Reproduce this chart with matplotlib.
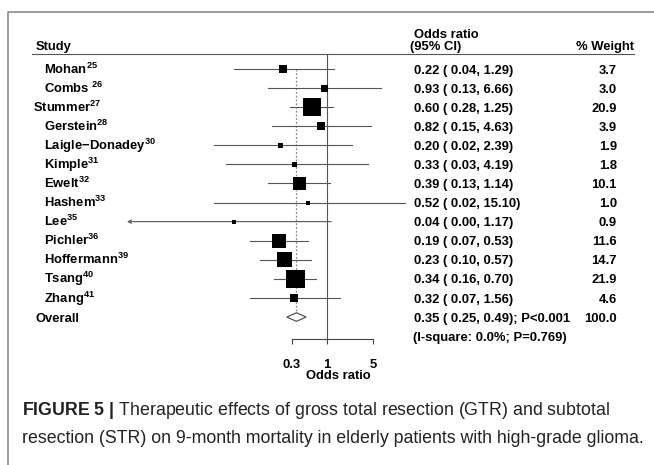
import numpy as np
import matplotlib
matplotlib.use('Agg')
import matplotlib.pyplot as plt
import matplotlib.transforms as mtransforms
from matplotlib.lines import Line2D
from matplotlib.patches import Polygon
from matplotlib.ticker import NullLocator

plt.rcParams['font.family'] = ['Liberation Sans', 'DejaVu Sans']
plt.rcParams['mathtext.fontset'] = 'custom'
plt.rcParams['mathtext.rm'] = 'Liberation Sans'
plt.rcParams['mathtext.bf'] = 'Liberation Sans:bold'
plt.rcParams['mathtext.it'] = 'Liberation Sans:italic'

# ---------------- data ----------------
studies = ["Mohan", "Combs ", "Stummer", "Gerstein", "Laigle\u2212Donadey", "Kimple",
           "Ewelt", "Hashem", "Lee", "Pichler", "Hoffermann", "Tsang", "Zhang"]
refs = ["25", "26", "27", "28", "30", "31", "32", "33", "35", "36", "39", "40", "41"]
odds = [0.22, 0.93, 0.60, 0.82, 0.20, 0.33, 0.39, 0.52, 0.04, 0.19, 0.23, 0.34, 0.32]
ci_low = [0.04, 0.13, 0.28, 0.15, 0.02, 0.03, 0.13, 0.02, 0.00, 0.07, 0.10, 0.16, 0.07]
ci_high = [1.29, 6.66, 1.25, 4.63, 2.39, 4.19, 1.14, 15.10, 1.17, 0.53, 0.57, 0.70, 1.56]
weights = [3.7, 3.0, 20.9, 3.9, 1.9, 1.8, 10.1, 1.0, 0.9, 11.6, 14.7, 21.9, 4.6]
overall_or, overall_low, overall_high = 0.35, 0.25, 0.49
overall_p = "P<0.001"
overall_w = 100.0
i2_text = "(I-square: 0.0%; P=0.769)"
xticks = [0.3, 1, 5]
xtick_labels = ["0.3", "1", "5"]

# ---------------- layout ----------------
W, H = 654, 465
fig = plt.figure(figsize=(W / 100, H / 100), dpi=100)

x_one, k = 326.7, 28.8          # pixel of OR=1, pixels per ln unit
ax_l, ax_r = 127, 410
ax_t, ax_b = 54.5, 339
y0, dy = 69, 19.08              # first row pixel, row spacing

ax = fig.add_axes([ax_l / W, 1 - ax_b / H, (ax_r - ax_l) / W, (ax_b - ax_t) / H])
ax.set_xscale('log')
xmin = np.exp((ax_l - x_one) / k)
xmax = np.exp((ax_r - x_one) / k)
ax.set_xlim(xmin, xmax)
ax.set_ylim((ax_b - y0) / dy, (ax_t - y0) / dy)
ax.patch.set_visible(False)
for s in ['top', 'left', 'right']:
    ax.spines[s].set_visible(False)
ax.spines['bottom'].set_bounds(xticks[0], xticks[-1])
ax.spines['bottom'].set_color('#444444')
ax.spines['bottom'].set_linewidth(0.8)
ax.set_yticks([])
ax.set_xticks(xticks)
ax.set_xticklabels(xtick_labels)
ax.xaxis.set_minor_locator(NullLocator())
ax.tick_params(axis='x', direction='out', length=3.6, width=0.8, color='#444444',
               pad=10.5, labelsize=9.4)
for lbl in ax.get_xticklabels():
    lbl.set_fontweight('bold')

rows = np.arange(len(studies))
ov_row = len(studies)

# null line
ax.plot([1, 1], [ax.get_ylim()[0], ax.get_ylim()[1]], color='#555555', lw=0.8, zorder=1)
# overall dotted line
dh = 4.3 / dy
ax.plot([overall_or, overall_or], [0, ov_row - dh], color='#888888', lw=0.9,
        ls=(0, (1.5, 1.5)), zorder=1)

# CIs
for i in rows:
    lo, hi = ci_low[i], ci_high[i]
    if lo <= xmin:
        ax.annotate('', xy=(xmin, i), xytext=(hi, i),
                    arrowprops=dict(arrowstyle='->', lw=0.8, color='#555555',
                                    mutation_scale=6, shrinkA=0, shrinkB=0))
    else:
        ax.plot([lo, hi], [i, i], color='#555555', lw=0.8, zorder=2)

# squares
ax.scatter(odds, rows, marker='s', s=[8.3 * w for w in weights], color='black',
           linewidths=0, zorder=3)

# diamond
ax.add_patch(Polygon([(overall_low, ov_row), (overall_or, ov_row - dh),
                      (overall_high, ov_row), (overall_or, ov_row + dh)],
                     closed=True, facecolor='white', edgecolor='#444444', lw=0.8, zorder=3))

# ---------------- text ----------------
FS = 9.4
off = mtransforms.ScaledTranslation(0, -4.6 / 100, fig.dpi_scale_trans)
rtrans = mtransforms.blended_transform_factory(fig.transFigure, ax.transData) + off


def rowtext(x, row, s, ha='left'):
    fig.text(x / W, row, s, transform=rtrans, ha=ha, va='baseline',
             fontsize=FS, fontweight='bold', color='black')


def ftext(x, y, s, ha='left', fs=FS, weight='bold', color='black'):
    fig.text(x / W, 1 - y / H, s, ha=ha, va='baseline', fontsize=fs,
             fontweight=weight, color=color)


for i in rows:
    x = 33 if studies[i] == "Stummer" else 44
    rowtext(x, i, studies[i] + r"$^{\mathbf{" + refs[i] + "}}$")
    rowtext(414, i, f"{odds[i]:.2f} ( {ci_low[i]:.2f}, {ci_high[i]:.2f})")
    rowtext(617, i, f"{weights[i]:.1f}", ha='right')

rowtext(36, ov_row, "Overall")
rowtext(414, ov_row, f"{overall_or:.2f} ( {overall_low:.2f}, {overall_high:.2f}); {overall_p}")
rowtext(617, ov_row, f"{overall_w:.1f}", ha='right')
rowtext(413, ov_row + 1.0, i2_text)

# headers
ftext(36, 49.6, "Study")
ftext(414, 37.6, "Odds ratio")
ftext(410, 49.6, "(95% CI)")
ftext(634, 49.6, "% Weight", ha='right')
ftext(338, 379, "Odds ratio", ha='center')

fig.add_artist(Line2D([32 / W, 634 / W], [1 - 54.5 / H] * 2, color='#555555', lw=0.8))

# frame
fig.add_artist(Line2D([8 / W, 8 / W, 1.0], [0.0, 1 - 12 / H, 1 - 12 / H],
                      color='#8c8c8c', lw=1.2))

# caption
CFS = 12.8
ftext(22, 415, r"$\mathbf{FIGURE\ 5\ |}$ Therapeutic effects of gross total resection (GTR) and subtotal",
      fs=CFS, weight='normal', color='#222222')
ftext(22, 443, "resection (STR) on 9-month mortality in elderly patients with high-grade glioma.",
      fs=CFS, weight='normal', color='#222222')

fig.savefig('out.png', dpi=100)
